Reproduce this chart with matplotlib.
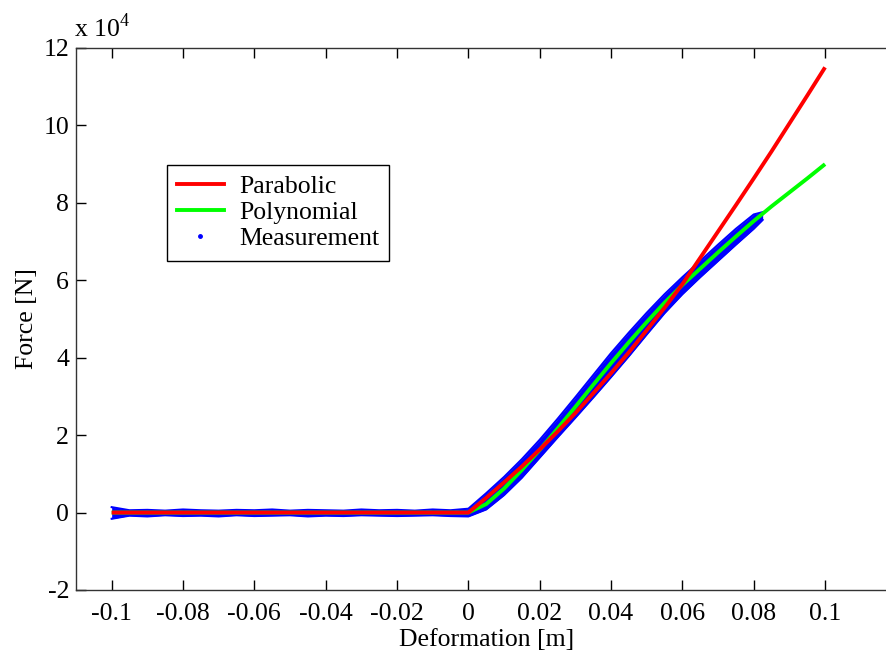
import matplotlib
matplotlib.use("Agg")
import matplotlib.pyplot as plt
from matplotlib.lines import Line2D

plt.rcParams['font.family'] = ['Liberation Serif', 'DejaVu Serif']
plt.rcParams['mathtext.fontset'] = 'custom'
plt.rcParams['mathtext.rm'] = 'Liberation Serif'
plt.rcParams['axes.unicode_minus'] = False

# ---- data (force in units of 1e4 N) ----
fit_x = [-0.1, 0.0, 0.005, 0.01, 0.015, 0.02, 0.025, 0.03, 0.035, 0.04, 0.045,
         0.05, 0.055, 0.06, 0.065, 0.07, 0.075, 0.08, 0.085, 0.09, 0.095, 0.1]
parabolic = [0.0, 0.0, 0.38, 0.78, 1.19, 1.63, 2.09, 2.57, 3.08, 3.60, 4.14,
             4.71, 5.29, 5.90, 6.58, 7.26, 7.94, 8.63, 9.33, 10.05, 10.77, 11.50]
polynomial = [0.0, 0.0, 0.22, 0.62, 1.10, 1.62, 2.17, 2.73, 3.30, 3.86, 4.40,
              4.92, 5.42, 5.88, 6.30, 6.72, 7.13, 7.53, 7.91, 8.27, 8.63, 9.00]

meas_x = [-0.1, -0.095, -0.09, -0.085, -0.08, -0.075, -0.07, -0.065, -0.06, -0.055,
          -0.05, -0.045, -0.04, -0.035, -0.03, -0.025, -0.02, -0.015, -0.01, -0.005,
          0.0, 0.005, 0.01, 0.015, 0.02, 0.025, 0.03, 0.035, 0.04, 0.045, 0.05,
          0.055, 0.06, 0.065, 0.07, 0.075, 0.08, 0.0825]
meas_upper = [0.14, 0.06, 0.07, 0.05, 0.08, 0.06, 0.05, 0.07, 0.06, 0.08,
              0.05, 0.07, 0.06, 0.05, 0.08, 0.06, 0.07, 0.05, 0.08, 0.06,
              0.10, 0.50, 0.92, 1.38, 1.88, 2.42, 2.98, 3.55, 4.12, 4.65, 5.16,
              5.64, 6.08, 6.50, 6.92, 7.33, 7.70, 7.76]
meas_lower = [-0.16, -0.08, -0.10, -0.07, -0.09, -0.08, -0.10, -0.07, -0.09, -0.08,
              -0.07, -0.10, -0.08, -0.09, -0.07, -0.08, -0.09, -0.08, -0.07, -0.09,
              -0.10, 0.08, 0.45, 0.90, 1.42, 1.94, 2.45, 2.97, 3.50, 4.04, 4.60,
              5.15, 5.64, 6.08, 6.50, 6.92, 7.33, 7.56]

xticks = [-0.1, -0.08, -0.06, -0.04, -0.02, 0, 0.02, 0.04, 0.06, 0.08, 0.1]
xticklabels = ['-0.1', '-0.08', '-0.06', '-0.04', '-0.02', '0', '0.02', '0.04', '0.06', '0.08', '0.1']
yticks = [-2, 0, 2, 4, 6, 8, 10, 12]
yticklabels = ['-2', '0', '2', '4', '6', '8', '10', '12']

# ---- figure ----
W, H = 887, 655
fig = plt.figure(figsize=(W / 100, H / 100), dpi=100)
ax_left, ax_right, ax_top, ax_bot = 76, 896.4, 48, 590
ax = fig.add_axes([ax_left / W, (H - ax_bot) / H, (ax_right - ax_left) / W, (ax_bot - ax_top) / H])

blue = (0, 0, 1)
ax.fill_between(meas_x, meas_lower, meas_upper, color=blue, lw=0, zorder=1)
ax.plot(meas_x, meas_upper, color=blue, lw=1.5, zorder=1)
ax.plot(meas_x, meas_lower, color=blue, lw=1.5, zorder=1)
ax.plot(fit_x, polynomial, color=(0, 1, 0), lw=2.8, zorder=2, solid_capstyle='butt')
ax.plot(fit_x, parabolic, color=(1, 0, 0), lw=2.8, zorder=3, solid_capstyle='butt')

ax.set_xlim(-0.11, 0.12)
ax.set_ylim(-2, 12)
ax.set_xticks(xticks)
ax.set_xticklabels(xticklabels)
ax.set_yticks(yticks)
ax.set_yticklabels(yticklabels)

fs = 18.5
ax.tick_params(direction='in', length=7, width=1, top=True, right=True,
               labelsize=fs, colors='black')
ax.tick_params(axis='x', pad=9)
ax.tick_params(axis='y', pad=5)
for s in ax.spines.values():
    s.set_linewidth(1.0)
    s.set_color('#333333')

ax.set_xlabel('Deformation [m]', fontsize=fs, labelpad=3)
ax.set_ylabel('Force [N]', fontsize=fs, labelpad=4)

ax.text(-0.002, 1.012, r'x 10$^{\mathregular{4}}$', transform=ax.transAxes,
        fontsize=fs, ha='left', va='bottom')

handles = [Line2D([], [], color=(1, 0, 0), lw=2.8),
           Line2D([], [], color=(0, 1, 0), lw=2.8),
           Line2D([], [], color=blue, marker='.', ls='none', markersize=5)]
leg = ax.legend(handles, ['Parabolic', 'Polynomial', 'Measurement'],
                loc='upper left', bbox_to_anchor=(0.111, 0.784), borderaxespad=0,
                fontsize=fs, fancybox=False, framealpha=1, edgecolor='black',
                handlelength=1.8, handletextpad=0.6, labelspacing=0.12,
                borderpad=0.4)
leg.get_frame().set_linewidth(1.0)

fig.savefig('out.png', dpi=100)
